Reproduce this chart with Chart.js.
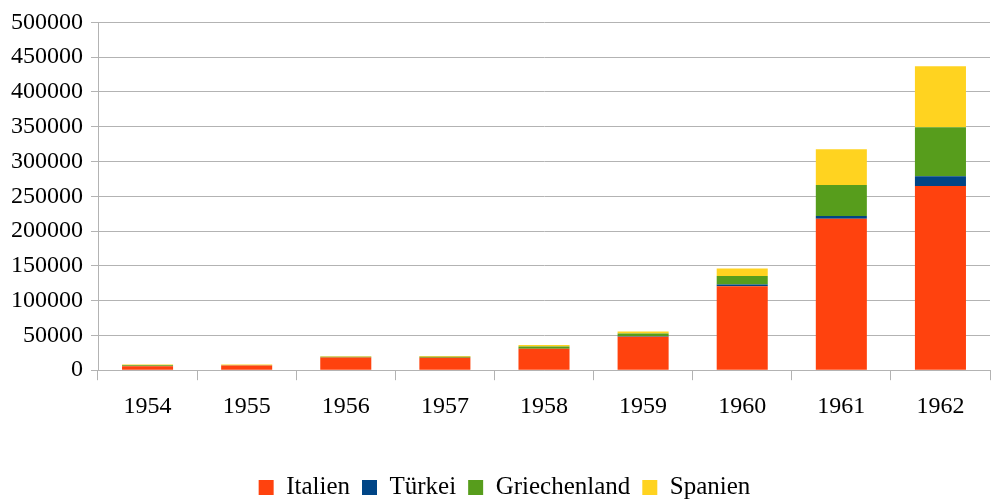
<!DOCTYPE html>
<html>
<head>
<meta charset="utf-8">
<script src="https://cdn.jsdelivr.net/npm/chart.js@4/dist/chart.umd.min.js"></script>
<style>
  html, body { margin: 0; padding: 0; background: #fff; }
  #wrap { width: 1004px; height: 503px; }
</style>
</head>
<body>
<div id="wrap"><canvas id="grafico"></canvas></div>
<script>
const jahre = ['1954', '1955', '1956', '1957', '1958', '1959', '1960', '1961', '1962'];

const italien       = [5700, 6800, 18200, 18000, 31000, 48200, 120800, 217800, 264700];
const tuerkei       = [0, 0, 0, 0, 0, 500, 2300, 3900, 14300];
const griechenland  = [1400, 200, 1000, 1400, 2900, 3900, 12500, 44500, 70300];
const spanien       = [1000, 1200, 1000, 1000, 2400, 2900, 10500, 51600, 87500];

const yTicks = [0, 50000, 100000, 150000, 200000, 250000, 300000, 350000, 400000, 450000, 500000];

const schrift = 'Liberation Serif';
const gitter = '#b3b3b3';

Chart.defaults.font.family = schrift;
Chart.defaults.color = '#000';

// legend a bit lower and a bit more to the right
const abstand = {
  id: 'abstand',
  beforeInit(chart) {
    const fit = chart.legend.fit;
    chart.legend.fit = function () {
      fit.bind(chart.legend)();
      this.height -= 7;
    };
  },
  afterLayout(chart) {
    chart.legend.left += 8;
    chart.legend.right += 8;
  }
};

var ctx = document.getElementById('grafico').getContext('2d');
var grafico = new Chart(ctx, {
  type: 'bar',
  data: {
    labels: jahre,
    datasets: [
      { label: 'Italien', backgroundColor: '#ff420e', data: italien },
      { label: 'Türkei', backgroundColor: '#004586', data: tuerkei },
      { label: 'Griechenland', backgroundColor: '#579d1c', data: griechenland },
      { label: 'Spanien', backgroundColor: '#ffd320', data: spanien }
    ]
  },
  plugins: [abstand],
  options: {
    responsive: true,
    maintainAspectRatio: false,
    animation: false,
    devicePixelRatio: 1,
    layout: { padding: { left: 3, right: 14, top: 11, bottom: 0 } },
    datasets: {
      bar: { categoryPercentage: 1, barPercentage: 0.515, borderWidth: 0 }
    },
    scales: {
      x: {
        stacked: true,
        afterFit: axis => { axis.height += 30; },
        grid: { offset: true, drawOnChartArea: false, drawTicks: true, tickLength: 10, color: gitter },
        border: { color: gitter },
        ticks: { color: '#000', font: { family: schrift, size: 24 }, padding: 12 }
      },
      y: {
        stacked: true,
        min: 0,
        max: 500000,
        afterBuildTicks: axis => { axis.ticks = yTicks.map(v => ({ value: v })); },
        grid: { color: gitter, tickLength: 7 },
        border: { color: gitter },
        ticks: {
          color: '#000',
          font: { family: schrift, size: 24 },
          padding: 8,
          callback: v => String(v)
        }
      }
    },
    plugins: {
      tooltip: { enabled: false },
      legend: {
        position: 'bottom',
        labels: {
          color: '#000',
          font: { family: schrift, size: 25 },
          boxWidth: 15,
          boxHeight: 15,
          padding: 12
        }
      }
    }
  }
});
</script>
</body>
</html>
